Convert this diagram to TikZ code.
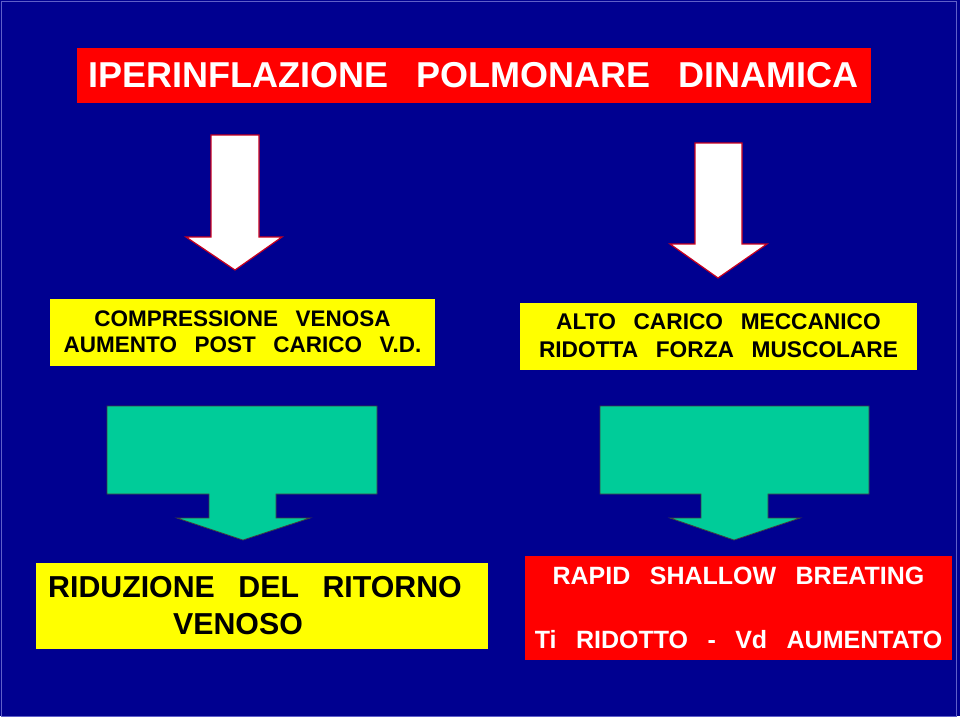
\documentclass[tikz,border=0pt]{standalone}
\usepackage{fontspec}
\setmainfont[WordSpace=2.8]{Liberation Sans}
\usepackage{tikz}
\usetikzlibrary{positioning}
\definecolor{slideblue}{RGB}{0,0,144}
\definecolor{edgeblue}{RGB}{95,95,200}
\definecolor{boxred}{RGB}{255,0,0}
\definecolor{boxyellow}{RGB}{255,255,0}
\definecolor{arrowred}{RGB}{200,0,30}
\definecolor{arrowgreen}{RGB}{0,204,153}
\tikzset{
  box/.style={inner sep=0pt, align=center, font=\bfseries},
  redbox/.style={box, fill=boxred, text=white},
  yellowbox/.style={box, fill=boxyellow, text=black},
  whitearrow/.style={fill=white, draw=arrowred, line width=1.2pt, line join=miter},
  greenarrow/.style={fill=arrowgreen, draw=black!75, line width=0.8pt, line join=miter}
}
\begin{document}
\begin{tikzpicture}[x=1pt,y=-1pt]
  \useasboundingbox (0,0) rectangle (960,716);
  \fill[slideblue] (0,0) rectangle (960,716);
  \draw[edgeblue, line width=1pt] (1.5,1.5) rectangle (956.5,716);

  \node[redbox, minimum width=794pt, minimum height=55pt, font=\bfseries\fontsize{36}{40}\selectfont]
    (title) at (473.5,75.5) {IPERINFLAZIONE POLMONARE DINAMICA};

  \draw[whitearrow] (211,135) -- (259,135) -- (259,237) -- (282,237) -- (235,270)
    -- (186,237) -- (211,237) -- cycle;
  \draw[whitearrow] (695,143) -- (742,143) -- (742,244) -- (767,244) -- (718,278)
    -- (670,244) -- (695,244) -- cycle;

  \node[yellowbox, minimum width=385pt, minimum height=67pt, font=\bfseries\fontsize{22.5}{26}\selectfont]
    (venosa) at (242.5,332) {COMPRESSIONE VENOSA\\AUMENTO POST CARICO V.D.};
  \node[yellowbox, minimum width=397pt, minimum height=67pt, font=\bfseries\fontsize{22.7}{28}\selectfont]
    (carico) at (718.5,336) {ALTO CARICO MECCANICO\\RIDOTTA FORZA MUSCOLARE};

  \draw[greenarrow] (107,406) -- (377,406) -- (377,494) -- (276,494) -- (276,518) -- (310,518)
    -- (243,540) -- (177,518) -- (209,518) -- (209,494) -- (107,494) -- cycle;
  \draw[greenarrow] (600,406) -- (869,406) -- (869,494) -- (768,494) -- (768,518) -- (800,518)
    -- (734,540) -- (670,518) -- (701,518) -- (701,494) -- (600,494) -- cycle;

  \node[yellowbox, minimum width=452pt, minimum height=86pt, font=\bfseries\fontsize{30.3}{37}\selectfont]
    (ritorno) at (262,606) {RIDUZIONE DEL RITORNO\hspace*{14pt}\\VENOSO\hspace*{48pt}};
  \node[redbox, minimum width=427pt, minimum height=104pt, font=\bfseries\fontsize{25}{30}\selectfont]
    (breathing) at (738.5,608) {RAPID SHALLOW BREATING\\[34pt]Ti RIDOTTO - Vd AUMENTATO};
\end{tikzpicture}
\end{document}
